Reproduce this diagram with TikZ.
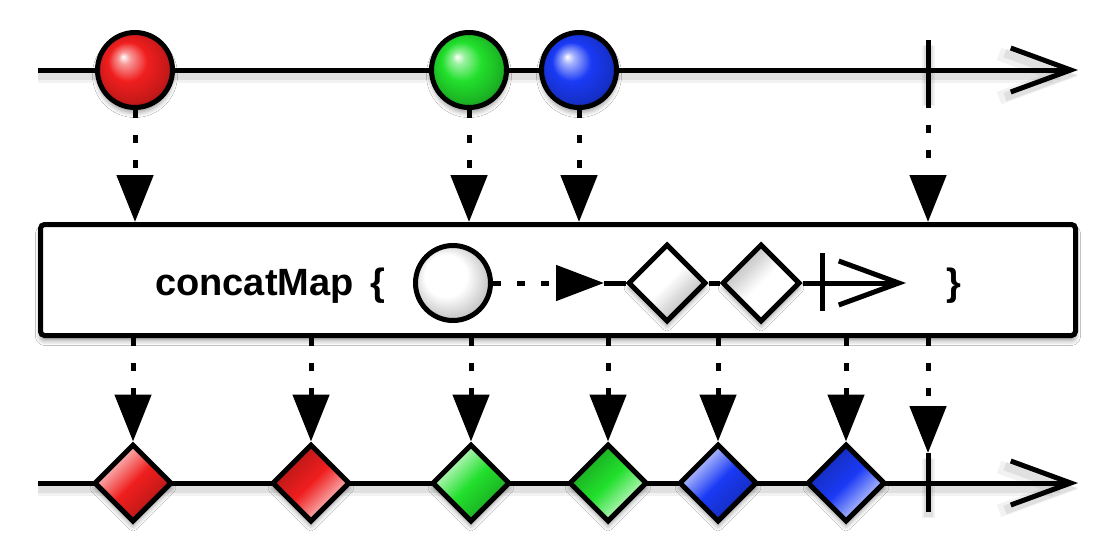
\documentclass[tikz,border=0pt]{standalone}
\usepackage{fontspec}
\newfontfamily\labelfont{Liberation Sans}
\usetikzlibrary{arrows.meta,shapes.geometric,shadows.blur}
\definecolor{rxred}{RGB}{240,30,30}
\definecolor{rxgreen}{RGB}{34,224,44}
\definecolor{rxblue}{RGB}{26,58,245}
\pgfdeclareradialshading{softwhite}{\pgfpoint{-8bp}{8bp}}{color(0bp)=(white); color(14bp)=(white); color(27bp)=(black!24); color(36bp)=(black!42)}
\pgfdeclareradialshading{redball}{\pgfpoint{-8bp}{9bp}}{color(0bp)=(white); color(4bp)=(rxred!45!white); color(13bp)=(rxred); color(24bp)=(rxred!82!black); color(34bp)=(rxred!45!black)}
\pgfdeclareradialshading{greenball}{\pgfpoint{-8bp}{9bp}}{color(0bp)=(white); color(4bp)=(rxgreen!45!white); color(13bp)=(rxgreen); color(24bp)=(rxgreen!80!black); color(34bp)=(rxgreen!45!black)}
\pgfdeclareradialshading{blueball}{\pgfpoint{-8bp}{9bp}}{color(0bp)=(white); color(4bp)=(rxblue!40!white); color(13bp)=(rxblue); color(24bp)=(rxblue!82!black); color(34bp)=(rxblue!45!black)}
\tikzset{
  lineshadow/.style={
    preaction={draw=black, line width=13pt, opacity=0.05, transform canvas={yshift=-6pt}},
    preaction={draw=black, line width=9pt, opacity=0.07, transform canvas={yshift=-5pt}}},
  timeline/.style={line width=5pt, lineshadow, -{Straight Barb[length=60pt, width=44pt]}},
  tickline/.style={line width=5pt, lineshadow},
  plainline/.style={line width=5pt},
  softshadow/.style={blur shadow={shadow xshift=0pt, shadow yshift=-5pt, shadow blur radius=5pt, shadow opacity=40}},
  ballnode/.style={circle, draw=black, line width=5pt, minimum size=75pt, inner sep=0pt, shade, shading=#1, softshadow},
  gem/.style={diamond, draw=black, line width=5pt, minimum size=78pt, inner sep=0pt, softshadow},
  gemA/.style={gem, top color=#1!10!white, bottom color=#1!72!black, middle color=#1, shading angle=45},
  gemB/.style={gem, top color=#1!72!black, bottom color=#1!10!white, middle color=#1, shading angle=45},
  flow/.style={line width=5pt, dash pattern=on 8pt off 17pt, -{Triangle[length=47pt, width=36pt]}},
  flowin/.style={line width=5pt, dash pattern=on 8pt off 16pt, -{Triangle[length=48pt, width=35pt]}},
  opbox/.style={draw=black, line width=5pt, rounded corners=4pt, fill=white, minimum width=1035pt, minimum height=111pt, inner sep=0pt, softshadow},
  opfont/.style={font=\labelfont\bfseries\fontsize{38}{40}\selectfont}
}
\begin{document}
\begin{tikzpicture}[x=1pt, y=-1pt]
  \useasboundingbox[fill=white] (0,0) rectangle (1103,549);

  % ---------- top timeline ----------
  \coordinate (s1) at (38,70);
  \coordinate (e1) at (1078,70);
  \draw[timeline] (s1) -- (e1);
  \coordinate (t1top) at (928,40);
  \coordinate (t1bot) at (928,100);
  \draw[tickline] (t1top) -- (t1bot);
  \node[ballnode=redball] (b1) at (135,70) {};
  \node[ballnode=greenball] (b2) at (469,70) {};
  \node[ballnode=blueball] (b3) at (579,70) {};

  % ---------- operator box ----------
  \node[opbox] (box) at (558,280) {};
  \node[opfont, anchor=base west, inner sep=0pt] (lbl) at (155,295) {concatMap};
  \node[opfont, anchor=base west, inner sep=0pt] (lbr) at (370,295) {\{};
  \node[opfont, anchor=base west, inner sep=0pt] (rbr) at (946,295) {\}};
  \node[circle, draw=black, line width=5pt, minimum size=75pt, inner sep=0pt, shade, shading=softwhite] (c0) at (453,283) {};
  \coordinate (tri) at (604,283);
  \node[gem, top color=white, bottom color=black!32, middle color=white, shading angle=45] (g1) at (667,283) {};
  \node[gem, top color=black!32, bottom color=white, middle color=white, shading angle=45] (g2) at (761,283) {};
  \coordinate (ittop) at (822,253);
  \coordinate (itbot) at (822,311);
  \coordinate (ie) at (906,283);
  \draw[flowin] (c0.east) -- (tri);
  \draw[plainline] (tri) -- (g1.west);
  \draw[plainline] (g1.east) -- (g2.west);
  \draw[plainline, -{Straight Barb[length=60pt, width=44pt]}] (g2.east) -- (ie);
  \draw[plainline] (ittop) -- (itbot);

  % ---------- bottom timeline ----------
  \coordinate (s2) at (38,483);
  \coordinate (e2) at (1078,483);
  \draw[timeline] (s2) -- (e2);
  \coordinate (t2top) at (928,453);
  \coordinate (t2bot) at (928,512);
  \draw[tickline] (t2top) -- (t2bot);
  \node[gemA=rxred] (d1) at (133,483) {};
  \node[gemB=rxred] (d2) at (311,483) {};
  \node[gemA=rxgreen] (d3) at (471,483) {};
  \node[gemB=rxgreen] (d4) at (608,483) {};
  \node[gemA=rxblue] (d5) at (718,483) {};
  \node[gemB=rxblue] (d6) at (846,483) {};

  % ---------- connectors ----------
  \draw[flow] (b1.south) -- (b1.south |- box.north);
  \draw[flow] (b2.south) -- (b2.south |- box.north);
  \draw[flow] (b3.south) -- (b3.south |- box.north);
  \draw[flow] (t1bot) -- (t1bot |- box.north);
  \draw[flow] (box.south -| d1.north) -- (d1.north);
  \draw[flow] (box.south -| d2.north) -- (d2.north);
  \draw[flow] (box.south -| d3.north) -- (d3.north);
  \draw[flow] (box.south -| d4.north) -- (d4.north);
  \draw[flow] (box.south -| d5.north) -- (d5.north);
  \draw[flow] (box.south -| d6.north) -- (d6.north);
  \draw[flow] (box.south -| t2top) -- (t2top);
\end{tikzpicture}
\end{document}
